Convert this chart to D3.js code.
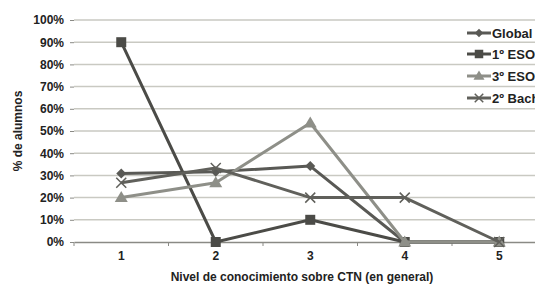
<!DOCTYPE html>
<html><head><meta charset="utf-8">
<script src="https://cdn.jsdelivr.net/npm/d3@7"></script>
<style>body{margin:0;background:#fff}svg{display:block}text{font-family:"Liberation Sans",Arial,sans-serif;font-weight:bold;fill:#222}</style>
</head><body>
<script>
const categories = ["1","2","3","4","5"];
const yTicks = [0,10,20,30,40,50,60,70,80,90,100];
const seriesNames = ["Global","1º ESO","3º ESO","2º Bach"];
const globalVals = [30.8, 31.7, 34.2, 0, 0];
const eso1Vals = [90, 0, 10, 0, 0];
const eso3Vals = [20, 26.7, 53.6, 0, 0];
const bach2Vals = [26.7, 33.3, 20, 20, 0];
const seriesValues = [globalVals, eso1Vals, eso3Vals, bach2Vals];
const colors = ["#595955", "#4b4b47", "#8e8f88", "#60605b"];
const markers = ["diamond","square","triangle","cross"];

const W=535,H=286;
const svg=d3.select("body").append("svg").attr("width",W).attr("height",H);
const x=d3.scaleBand().domain(categories).range([74,546.5]);
const y=d3.scaleLinear().domain([0,100]).range([242,20]);

// gridlines
svg.append("g").selectAll("line").data(yTicks.filter(d=>d>0)).join("line")
 .attr("x1",74).attr("x2",W).attr("y1",d=>y(d)).attr("y2",d=>y(d))
 .attr("stroke","#c9c9c2").attr("stroke-width",1.5);
// y ticks & labels
const ya=svg.append("g").attr("transform","translate(74,0)").call(d3.axisLeft(y).tickValues(yTicks).tickFormat(d=>d+"%").tickSize(4).tickPadding(6));
ya.select(".domain").remove();
ya.selectAll("line").attr("stroke","#8a8a85");
ya.selectAll("text").style("font-size","12px").style("font-family","Liberation Sans, Arial, sans-serif").style("font-weight","bold").attr("fill","#222");
// x axis
const xa=svg.append("g").attr("transform","translate(0,242)").call(d3.axisBottom(x).tickSize(0).tickPadding(9));
xa.select(".domain").attr("stroke","#8a8a85").attr("stroke-width",1.5);
xa.selectAll("text").style("font-size","12px").style("font-family","Liberation Sans, Arial, sans-serif").style("font-weight","bold").attr("fill","#222");
// boundary ticks
const bounds=categories.map(c=>x(c));
svg.append("g").selectAll("line").data(bounds).join("line")
 .attr("x1",d=>d).attr("x2",d=>d).attr("y1",242).attr("y2",246).attr("stroke","#8a8a85").attr("stroke-width",1);

// titles
svg.append("text").attr("x",302).attr("y",281).attr("text-anchor","middle").style("font-size","12px").text("Nivel de conocimiento sobre CTN (en general)");
svg.append("text").attr("transform","translate(22,131) rotate(-90)").attr("text-anchor","middle").style("font-size","12px").text("% de alumnos");

function marker(g,type,cx,cy,col,s){
 s=s||1;
 if(type==="diamond") g.append("path").attr("d",`M${cx},${cy-5*s}L${cx+5*s},${cy}L${cx},${cy+5*s}L${cx-5*s},${cy}Z`).attr("fill",col);
 else if(type==="square") g.append("rect").attr("x",cx-5*s).attr("y",cy-5*s).attr("width",10*s).attr("height",10*s).attr("fill",col);
 else if(type==="triangle") g.append("path").attr("d",`M${cx},${cy-6.5*s}L${cx+6.5*s},${cy+4.5*s}L${cx-6.5*s},${cy+4.5*s}Z`).attr("fill",col);
 else g.append("path").attr("d",`M${cx-5*s},${cy-5*s}L${cx+5*s},${cy+5*s}M${cx-5*s},${cy+5*s}L${cx+5*s},${cy-5*s}`).attr("stroke",col).attr("stroke-width",1.5);
}
const line=d3.line().x((d,i)=>x(categories[i])+x.bandwidth()/2).y(d=>y(d));
seriesValues.forEach((vals,si)=>{
 const g=svg.append("g");
 g.append("path").attr("d",line(vals)).attr("fill","none").attr("stroke",colors[si]).attr("stroke-width",3).attr("stroke-linejoin","round");
 vals.forEach((v,i)=>marker(g,markers[si],x(categories[i])+x.bandwidth()/2,y(v),colors[si]));
});
// legend
const ly=[33,54,76,98];
seriesNames.forEach((n,i)=>{
 const g=svg.append("g");
 g.append("line").attr("x1",467).attr("x2",491).attr("y1",ly[i]).attr("y2",ly[i]).attr("stroke",colors[i]).attr("stroke-width",3);
 marker(g,markers[i],479,ly[i],colors[i],0.85);
 g.append("text").attr("x",492).attr("y",ly[i]+4.5).style("font-size","13px").text(n);
});
</script>
</body></html>
